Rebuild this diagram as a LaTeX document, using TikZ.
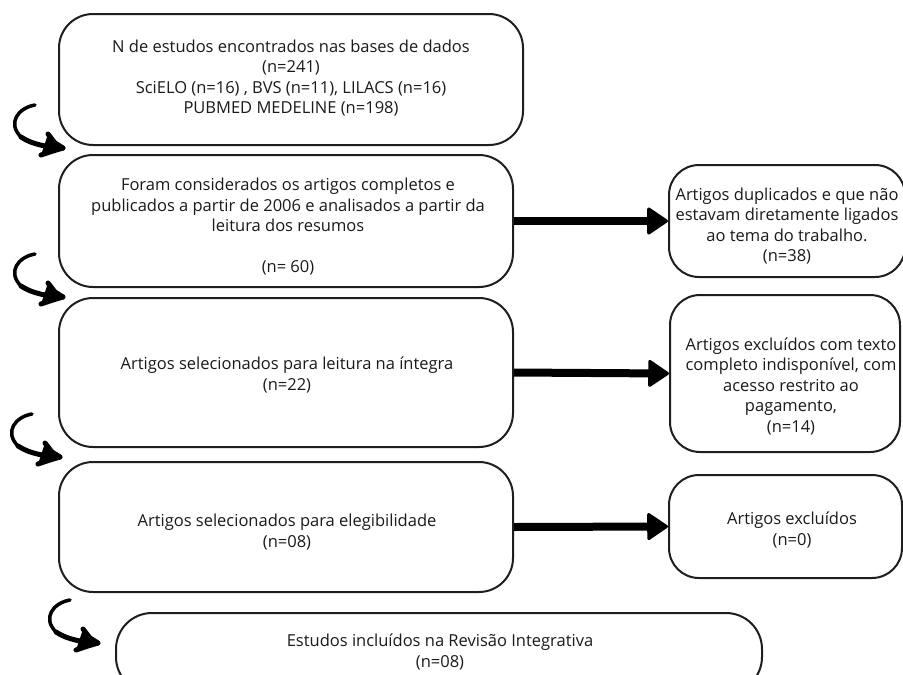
\documentclass[tikz,border=0pt]{standalone}
\usepackage{fontspec}
\setmainfont{Open Sans}
\usetikzlibrary{arrows.meta}
\definecolor{ink}{HTML}{1E1E1E}
\definecolor{txtc}{HTML}{1A1A1A}
\tikzset{
  box/.style={draw=ink, line width=2pt, rounded corners=34pt, fill=white, inner sep=0pt},
  rbox/.style={draw=ink, line width=2pt, rounded corners=30pt, fill=white, inner sep=0pt},
  txt/.style={text=txtc, align=center, inner sep=0pt, font=\fontsize{16.5}{20.5}\selectfont},
  bigarrow/.style={draw=black, line width=8pt, -{Triangle[length=22pt,width=29pt,line width=3pt,round]}},
  curlyline/.style={draw=black, line width=5pt, line cap=round, line join=round},
  curly/.pic={
    \draw[curlyline, line width=3.5pt] (-28,-43) .. controls (-45,-40) and (-56,-25) .. (-42,-11);
    \draw[curlyline] (-42,-11) .. controls (-30,-3) and (-15,-1) .. (0,0);
    \draw[curlyline, fill=black] (-15,-14) -- (-8,-5) -- (0,0) -- (-10,3) -- (-22,7);
  }
}
\begin{document}
\begin{tikzpicture}[x=1pt,y=-1pt]
\useasboundingbox (0,0) rectangle (903,675);
\clip (0,0) rectangle (903,675);
% left column boxes
\node[box, minimum width=464pt, minimum height=131pt] (b1) at (291,79.5) {};
\node[box, minimum width=454pt, minimum height=132pt] (b2) at (286,221) {};
\node[box, minimum width=454pt, minimum height=149pt] (b3) at (286,372.5) {};
\node[box, minimum width=454pt, minimum height=130pt] (b4) at (286,527) {};
\node[box, rounded corners=36pt, minimum width=646pt, minimum height=80pt] (b5) at (439,653) {};
% right column boxes
\node[rbox, minimum width=236pt, minimum height=112pt] (r1) at (787,221) {};
\node[rbox, minimum width=230pt, minimum height=157pt] (r2) at (785,373.5) {};
\node[rbox, minimum width=233pt, minimum height=103pt] (r3) at (785.5,526.5) {};
% texts
\node[txt] (t1) at (291,78) {N de estudos encontrados nas bases de dados\\(n=241)\\SciELO (n=16) , BVS (n=11), LILACS (n=16)\\PUBMED MEDELINE (n=198)};
\node[txt] (t2) at (288,227) {Foram considerados os artigos completos e\\publicados a partir de 2006 e analisados a partir da\\leitura dos resumos\\[20.5pt](n= 60)};
\node[txt] (t3) at (287,375) {Artigos selecionados para leitura na íntegra\\(n=22)};
\node[txt] (t4) at (287,532) {Artigos selecionados para elegibilidade\\(n=08)};
\node[txt] (t5) at (440,652) {Estudos incluídos na Revisão Integrativa\\(n=08)};
\node[txt] (s1) at (787,226) {Artigos duplicados e que não\\estavam diretamente ligados\\ao tema do trabalho.\\(n=38)};
\node[txt] (s2) at (791,386) {Artigos excluídos com texto\\completo indisponível, com\\acesso restrito ao\\pagamento,\\(n=14)};
\node[txt] (s3) at (792,530) {Artigos excluídos\\(n=0)};
% horizontal arrows
\draw[bigarrow] (b2.east) -- (r1.west);
\draw[bigarrow] (b3.east) -- (r2.west);
\draw[bigarrow] (b4.east) -- (r3.west);
% curly arrows
\coordinate (k1) at (63,148);
\coordinate (k2) at (63,297);
\coordinate (k3) at (60,457);
\coordinate (k4) at (98,643);
\pic at (k1) {curly};
\pic at (k2) {curly};
\pic at (k3) {curly};
\pic at (k4) {curly};
\end{tikzpicture}
\end{document}
